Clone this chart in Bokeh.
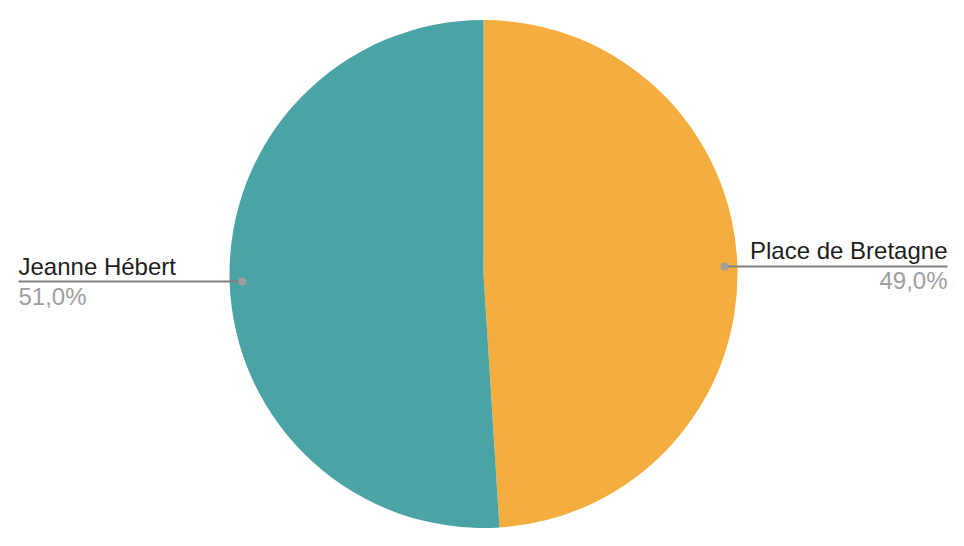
import math
from bokeh.plotting import figure
from bokeh.models import Range1d, ColumnDataSource
from bokeh.core.properties import value
from bokeh.embed import file_html
from bokeh.resources import INLINE

labels = ["Place de Bretagne", "Jeanne Hébert"]
shares = [49.0, 51.0]
pct_labels = ["49,0%", "51,0%"]
colors = ["#F4AE3F", "#4AA3A5"]

W, H = 948, 530
p = figure(width=W, height=H, output_backend="svg", toolbar_location=None,
           x_range=Range1d(0, W), y_range=Range1d(0, H),
           min_border=0, outline_line_color=None)
p.axis.visible = False
p.grid.visible = False
p.background_fill_color = "white"

def sy(y):  # screen y -> data y
    return H - y

cx, cy, r = 483, sy(273.5), 254
total = sum(shares)
starts, ends = [], []
a = math.pi / 2
for s in shares:
    starts.append(a)
    a -= s / total * 2 * math.pi
    ends.append(a)

src = ColumnDataSource(dict(start=starts, end=ends, color=colors))
p.wedge(x=cx, y=cy, radius=r, start_angle="start", end_angle="end",
        direction="clock", fill_color="color", line_color=None, source=src)

for lab, pct, st, en in zip(labels, pct_labels, starts, ends):
    mid = (st + en) / 2
    px = cx + 0.95 * r * math.cos(mid)
    py = cy + 0.95 * r * math.sin(mid)
    right = math.cos(mid) > 0
    xe = 947 if right else 18
    p.line([px, xe], [py, py], line_color="#808080", line_width=2)
    p.scatter([px], [py], size=8, fill_color="#A0A0A0", line_color=None)
    align = "right" if right else "left"
    p.text([xe], [py + 2], text=[lab], text_align=align, text_baseline="bottom",
           text_font=value("Liberation Sans"), text_font_size="24px", text_color="#1E1E1E")
    p.text([xe], [py - 1], text=[pct], text_align=align, text_baseline="top",
           text_font=value("Liberation Sans"), text_font_size="24px", text_color="#9E9E9E")

open("out.html", "w").write(file_html(p, INLINE))
